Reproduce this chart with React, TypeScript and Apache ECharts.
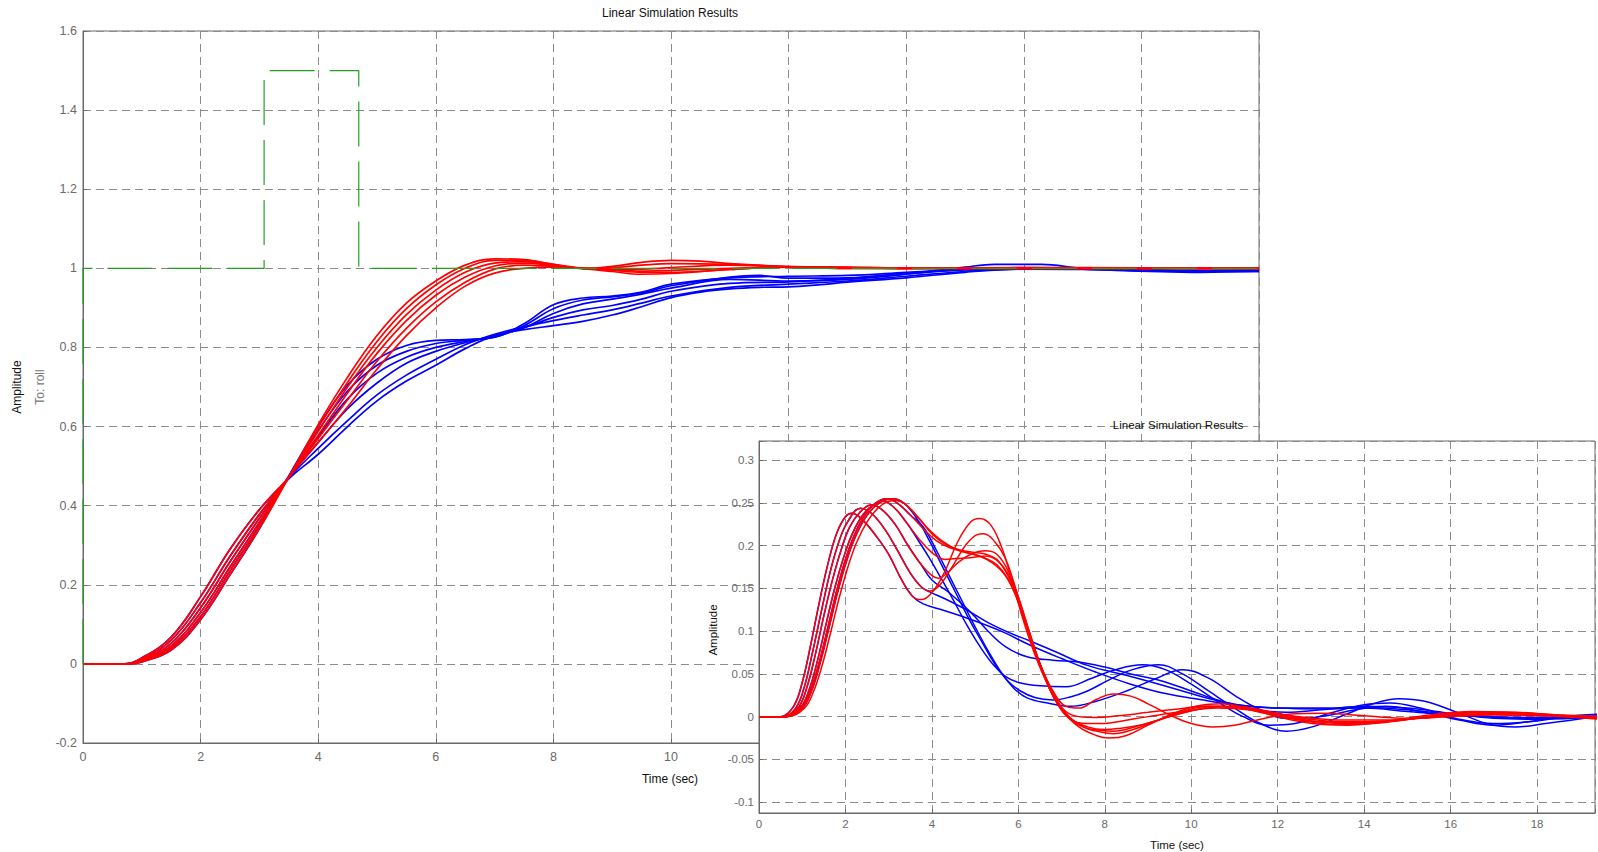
import React, { useEffect, useRef } from "react";
import * as echarts from "echarts";

const FONT = "'Liberation Sans', Arial, Helvetica, sans-serif";

// ---------- Main plot (roll step response) ----------
const MAIN_X_TICKS = [0, 20, 2]; // min, max, interval
const MAIN_Y_TICKS = [-0.2, 1.6, 0.2];

const INPUT_SIGNAL: number[][] = [[0, 0], [0, 1], [3.08, 1], [3.08, 1.5], [4.69, 1.5], [4.69, 1], [20, 1]];

const MAIN_RED_1 = [[0,0],[0.7,0],[1,0.015],[1.5,0.068],[2,0.17],[2.5,0.29],[3,0.39],[3.5,0.472],[4,0.56],[4.5,0.65],[5,0.745],[5.5,0.83],[6,0.9],[6.5,0.955],[7,0.988],[7.5,1.0],[8,1.003],[8.5,1.0],[9,0.995],[9.5,0.99],[10,0.99],[10.5,0.992],[11,0.997],[12,1.003],[13,1.003],[14,1.001],[16,1.0],[18,1.0],[20,1.0]];
const MAIN_RED_2 = [[0,0],[0.7,0],[1,0.012],[1.5,0.06],[2,0.155],[2.5,0.272],[3,0.378],[3.5,0.472],[4,0.57],[4.5,0.668],[5,0.765],[5.5,0.848],[6,0.915],[6.5,0.965],[7,0.998],[7.5,1.008],[8,1.005],[8.5,1.0],[9,0.996],[9.5,0.993],[10,0.995],[11,1.0],[12,1.004],[13,1.002],[14,1.0],[16,1.0],[18,1.0],[20,1.0]];
const MAIN_RED_3 = [[0,0],[0.7,0],[1,0.01],[1.5,0.052],[2,0.142],[2.5,0.258],[3,0.368],[3.5,0.472],[4,0.578],[4.5,0.685],[5,0.785],[5.5,0.868],[6,0.932],[6.5,0.978],[7,1.006],[7.5,1.013],[8,1.007],[8.5,1.0],[9,0.998],[9.5,0.998],[10,1.002],[11,1.008],[12,1.005],[13,1.001],[14,1.0],[16,1.0],[18,1.0],[20,1.0]];
const MAIN_RED_4 = [[0,0],[0.75,0],[1,0.008],[1.5,0.045],[2,0.13],[2.5,0.245],[3,0.358],[3.5,0.472],[4,0.588],[4.5,0.7],[5,0.8],[5.5,0.883],[6,0.945],[6.5,0.99],[7,1.013],[7.5,1.017],[8,1.008],[8.5,1.0],[9,1.002],[9.5,1.008],[10,1.012],[11,1.01],[12,1.004],[13,1.0],[14,1.0],[16,1.001],[18,1.0],[20,1.0]];
const MAIN_RED_5 = [[0,0],[0.8,0],[1,0.006],[1.5,0.04],[2,0.12],[2.5,0.235],[3,0.35],[3.5,0.472],[4,0.598],[4.5,0.712],[5,0.815],[5.5,0.898],[6,0.958],[6.5,1.0],[7,1.02],[7.5,1.02],[8,1.01],[8.5,1.0],[9,1.005],[9.5,1.015],[10,1.02],[10.5,1.018],[11,1.012],[12,1.004],[13,1.0],[14,1.0],[16,1.002],[18,1.001],[20,1.0]];
const MAIN_RED_6 = [[0,0],[0.8,0],[1,0.005],[1.5,0.035],[2,0.112],[2.5,0.225],[3,0.342],[3.5,0.472],[4,0.605],[4.5,0.725],[5,0.83],[5.5,0.912],[6,0.968],[6.5,1.008],[7,1.024],[7.5,1.022],[8,1.01],[8.5,1.0],[9,0.992],[9.5,0.985],[10,0.987],[11,0.997],[12,1.004],[13,1.002],[14,1.0],[16,1.0],[18,1.0],[20,1.0]];

// Blue traces leave the red ones at about t = 3.5 s
const MAIN_BLUE_TAIL_1 = [[3.5,0.468],[4,0.53],[4.5,0.6],[5,0.665],[5.5,0.715],[6,0.755],[6.5,0.797],[7,0.83],[7.5,0.845],[8,0.855],[8.5,0.866],[9,0.882],[9.5,0.903],[10,0.926],[10.5,0.94],[11,0.948],[11.5,0.952],[12,0.953],[12.5,0.958],[13,0.965],[14,0.976],[15,0.99],[16,0.998],[17,0.998],[18,0.994],[19,0.992],[20,0.993]];
const MAIN_BLUE_TAIL_2 = [[3.5,0.47],[4,0.545],[4.5,0.615],[5,0.68],[5.5,0.73],[6,0.77],[6.5,0.807],[7,0.833],[7.5,0.852],[8,0.868],[8.5,0.882],[9,0.895],[9.5,0.912],[10,0.93],[11,0.952],[12,0.96],[13,0.968],[14,0.98],[15,0.992],[16,0.998],[17,0.997],[18,0.993],[19,0.99],[20,0.992]];
const MAIN_BLUE_TAIL_3 = [[3.5,0.472],[4,0.56],[4.5,0.645],[5,0.71],[5.5,0.76],[6,0.79],[6.5,0.812],[7,0.83],[7.5,0.85],[8,0.876],[8.5,0.895],[9,0.906],[9.5,0.922],[10,0.942],[11,0.962],[12,0.966],[13,0.974],[14,0.986],[15,0.997],[16,1.002],[17,1.001],[18,0.997],[19,0.993],[20,0.993]];
const MAIN_BLUE_TAIL_4 = [[3.5,0.472],[4,0.575],[4.5,0.67],[5,0.735],[5.5,0.775],[6,0.8],[6.5,0.815],[7,0.828],[7.5,0.85],[8,0.886],[8.5,0.91],[9,0.922],[9.5,0.935],[10,0.95],[11,0.972],[12,0.968],[13,0.972],[14,0.985],[15,1.003],[15.5,1.01],[16.3,1.01],[17,1.0],[18,0.995],[19,0.993],[20,0.992]];
const MAIN_BLUE_TAIL_5 = [[3.5,0.474],[4,0.59],[4.5,0.69],[5,0.755],[5.5,0.79],[6,0.81],[6.5,0.818],[7,0.826],[7.5,0.855],[8,0.898],[8.5,0.92],[9,0.928],[9.5,0.938],[10,0.956],[11,0.978],[11.5,0.982],[12,0.975],[13,0.976],[14,0.988],[15,0.996],[16,1.0],[17,0.999],[18,0.996],[19,0.994],[20,0.995]];
const MAIN_BLUE_TAIL_6 = [[3.5,0.475],[4,0.6],[4.5,0.705],[5,0.77],[5.5,0.805],[6,0.818],[6.5,0.82],[7,0.826],[7.5,0.86],[8,0.908],[8.5,0.925],[9,0.93],[9.5,0.94],[10,0.96],[11,0.976],[12,0.98],[13,0.982],[14,0.99],[15,0.998],[16,1.001],[17,0.998],[18,0.996],[19,0.994],[20,0.994]];

// ---------- Inset plot ----------
const INSET_X_RANGE = [0, 19.34, 2];
const INSET_Y_RANGE = [-0.1128, 0.3226, 0.05];

const INSET_RED_1 = [[0,0],[0.5,0],[0.8,0.012],[1.0,0.04],[1.2,0.085],[1.4,0.135],[1.6,0.18],[1.8,0.215],[2.0,0.234],[2.15,0.238],[2.4,0.23],[2.7,0.212],[3.0,0.19],[3.3,0.16],[3.55,0.141],[3.75,0.137],[4.0,0.145],[4.3,0.17],[4.6,0.205],[4.9,0.228],[5.1,0.232],[5.35,0.225],[5.6,0.2],[5.85,0.16],[6.1,0.115],[6.4,0.07],[6.7,0.035],[7.0,0.008],[7.4,-0.012],[7.8,-0.022],[8.1,-0.025],[8.5,-0.022],[9.0,-0.01],[9.6,0.004],[10.2,0.013],[10.7,0.015],[11.3,0.01],[12,0.0],[12.8,-0.008],[13.6,-0.01],[14.5,-0.006],[15.5,0.002],[16.5,0.006],[17.5,0.004],[18.5,0.0],[19.5,-0.003]];
const INSET_RED_2 = [[0,0],[0.55,0],[0.85,0.01],[1.05,0.035],[1.25,0.078],[1.45,0.125],[1.65,0.17],[1.85,0.205],[2.05,0.228],[2.35,0.244],[2.6,0.238],[2.9,0.22],[3.2,0.195],[3.5,0.168],[3.75,0.152],[3.95,0.147],[4.2,0.155],[4.5,0.178],[4.8,0.202],[5.05,0.213],[5.2,0.214],[5.45,0.205],[5.7,0.185],[5.95,0.148],[6.2,0.105],[6.5,0.062],[6.8,0.028],[7.1,0.004],[7.5,-0.012],[7.9,-0.018],[8.2,-0.02],[8.6,-0.016],[9.2,-0.005],[9.8,0.006],[10.4,0.012],[11,0.011],[11.7,0.004],[12.5,-0.004],[13.3,-0.009],[14.2,-0.008],[15.2,-0.002],[16.2,0.004],[17.2,0.005],[18.2,0.002],[19.5,-0.002]];
const INSET_RED_3 = [[0,0],[0.55,0],[0.9,0.01],[1.1,0.033],[1.3,0.072],[1.5,0.118],[1.7,0.16],[1.9,0.195],[2.1,0.222],[2.35,0.24],[2.6,0.248],[2.85,0.242],[3.15,0.225],[3.45,0.2],[3.75,0.178],[4.0,0.165],[4.15,0.162],[4.35,0.168],[4.6,0.18],[4.9,0.19],[5.25,0.194],[5.5,0.19],[5.75,0.172],[6.0,0.14],[6.25,0.1],[6.55,0.055],[6.85,0.022],[7.15,0.0],[7.5,-0.012],[7.9,-0.016],[8.2,-0.017],[8.7,-0.012],[9.3,-0.003],[10,0.007],[10.7,0.012],[11.4,0.008],[12.2,0.0],[13,-0.006],[14,-0.007],[15,-0.003],[16,0.003],[17,0.005],[18,0.003],[19.5,-0.001]];
const INSET_RED_4 = [[0,0],[0.6,0],[0.95,0.01],[1.15,0.03],[1.35,0.065],[1.55,0.108],[1.75,0.15],[1.95,0.185],[2.15,0.213],[2.4,0.236],[2.65,0.248],[2.85,0.252],[3.1,0.246],[3.4,0.228],[3.7,0.208],[4.0,0.192],[4.3,0.184],[4.55,0.185],[4.9,0.186],[5.25,0.188],[5.5,0.183],[5.75,0.168],[6.0,0.138],[6.25,0.098],[6.55,0.055],[6.85,0.02],[7.2,-0.002],[7.6,-0.012],[8.0,-0.015],[8.3,-0.014],[8.8,-0.01],[9.5,0.0],[10.2,0.009],[11,0.012],[11.8,0.006],[12.6,-0.002],[13.5,-0.006],[14.5,-0.005],[15.5,-0.001],[16.5,0.003],[17.5,0.004],[18.5,0.002],[19.5,0.0]];
const INSET_RED_5 = [[0,0],[0.6,0],[1.0,0.01],[1.2,0.028],[1.4,0.06],[1.6,0.1],[1.8,0.142],[2.0,0.178],[2.2,0.207],[2.45,0.232],[2.7,0.247],[2.95,0.254],[3.1,0.255],[3.35,0.25],[3.65,0.235],[3.95,0.218],[4.25,0.205],[4.6,0.195],[4.95,0.19],[5.25,0.185],[5.5,0.178],[5.75,0.162],[6.0,0.135],[6.25,0.097],[6.55,0.054],[6.85,0.02],[7.2,-0.003],[7.6,-0.008],[8.0,-0.008],[8.4,-0.005],[9.0,0.0],[9.8,0.006],[10.6,0.01],[11.5,0.007],[12.5,0.0],[13.5,-0.004],[14.5,-0.004],[15.5,-0.001],[16.5,0.002],[17.5,0.003],[18.5,0.001],[19.5,-0.001]];
const INSET_RED_6 = [[0,0],[0.65,0],[1.05,0.01],[1.25,0.028],[1.45,0.058],[1.65,0.097],[1.85,0.138],[2.05,0.174],[2.25,0.203],[2.5,0.228],[2.75,0.244],[3.0,0.252],[3.15,0.253],[3.4,0.248],[3.7,0.232],[4.0,0.214],[4.3,0.202],[4.65,0.195],[5.0,0.192],[5.25,0.19],[5.5,0.184],[5.75,0.166],[6.0,0.138],[6.25,0.1],[6.5,0.062],[6.8,0.03],[7.1,0.012],[7.4,0.01],[7.8,0.02],[8.2,0.0265],[8.6,0.024],[9.0,0.015],[9.5,0.002],[10.0,-0.008],[10.5,-0.012],[11.0,-0.01],[11.6,-0.003],[12.3,0.003],[13.0,0.004],[14.0,0.001],[15,-0.002],[16,0.0],[17,0.002],[18,0.001],[19.5,0.0]];
const INSET_RED_7 = [[0,0],[0.6,0],[1.0,0.012],[1.2,0.032],[1.4,0.065],[1.6,0.106],[1.8,0.148],[2.0,0.184],[2.2,0.212],[2.45,0.236],[2.7,0.25],[2.95,0.255],[3.2,0.25],[3.5,0.236],[3.8,0.22],[4.1,0.206],[4.4,0.198],[4.8,0.192],[5.1,0.188],[5.4,0.18],[5.7,0.165],[5.95,0.14],[6.2,0.103],[6.5,0.06],[6.8,0.025],[7.1,0.006],[7.4,0.0],[7.8,-0.001],[8.3,0.001],[9.0,0.005],[9.7,0.009],[10.3,0.012],[11,0.011],[11.8,0.004],[12.6,-0.004],[13.5,-0.008],[14.5,-0.006],[15.5,0.0],[16.5,0.005],[17.5,0.005],[18.5,0.001],[19.5,-0.002]];

const INSET_BLUE_TAIL_1 = [[3.55,0.141],[3.8,0.132],[4.3,0.124],[5.0,0.112],[5.6,0.1],[6.3,0.083],[7.0,0.068],[7.8,0.052],[8.6,0.038],[9.4,0.027],[10.2,0.02],[11,0.014],[12,0.01],[13,0.009],[14,0.01],[15,0.006],[16,0.002],[17,-0.001],[18,-0.002],[19.5,-0.001]];
const INSET_BLUE_TAIL_2 = [[3.95,0.146],[4.3,0.138],[4.8,0.125],[5.3,0.11],[5.8,0.098],[6.3,0.088],[6.9,0.075],[7.6,0.06],[8.6,0.047],[9.6,0.033],[10.5,0.02],[11.2,0.013],[12,0.01],[13,0.01],[14,0.011],[15,0.008],[16,0.003],[17,0.0],[18,-0.001],[19.5,0.0]];
const INSET_BLUE_TAIL_3 = [[4.0,0.16],[4.4,0.145],[4.9,0.122],[5.3,0.1],[5.7,0.082],[6.2,0.07],[6.8,0.066],[7.4,0.064],[8.0,0.058],[8.6,0.05],[9.3,0.042],[10,0.03],[10.7,0.018],[11.5,0.008],[12.2,0.005],[13,0.008],[14,0.012],[15,0.01],[16,0.004],[17,-0.002],[18,-0.003],[19.5,0.0]];
const INSET_BLUE_TAIL_4 = [[3.7,0.205],[3.95,0.185],[4.2,0.163],[4.5,0.136],[4.8,0.108],[5.1,0.083],[5.4,0.062],[5.7,0.047],[6.0,0.04],[6.5,0.036],[7.1,0.035],[7.7,0.045],[8.25,0.055],[8.87,0.0606],[9.4,0.055],[10,0.038],[10.6,0.018],[11.2,0.0],[11.8,-0.01],[12.4,-0.008],[13.2,0.004],[14,0.014],[14.6,0.016],[15.3,0.01],[16.2,-0.003],[17,-0.008],[17.8,-0.006],[18.6,-0.001],[19.5,0.001]];
const INSET_BLUE_TAIL_5 = [[3.65,0.232],[3.95,0.205],[4.25,0.175],[4.55,0.145],[4.85,0.115],[5.15,0.088],[5.45,0.062],[5.75,0.042],[6.05,0.03],[6.4,0.022],[6.8,0.0195],[7.2,0.023],[7.6,0.03],[8.1,0.043],[8.64,0.055],[9.25,0.0606],[9.8,0.05],[10.4,0.03],[11,0.01],[11.6,-0.008],[12.2,-0.017],[12.8,-0.012],[13.6,0.003],[14.2,0.015],[14.8,0.021],[15.4,0.018],[16.2,0.004],[16.9,-0.009],[17.5,-0.012],[18.2,-0.008],[19.5,0.001]];
const INSET_BLUE_TAIL_6 = [[3.8,0.222],[4.1,0.195],[4.4,0.165],[4.7,0.135],[5.0,0.105],[5.3,0.077],[5.6,0.052],[5.9,0.033],[6.2,0.022],[6.7,0.0157],[7.2,0.012],[7.8,0.018],[8.5,0.03],[9.2,0.045],[9.8,0.055],[10.4,0.045],[11,0.025],[11.6,0.008],[12.2,-0.002],[13,0.0],[13.8,0.008],[14.5,0.012],[15.3,0.006],[16.2,-0.004],[17,-0.01],[17.8,-0.006],[18.6,0.0],[19.5,0.003]];

const TEXTS = {
  mainTitle: "Linear Simulation Results",
  insetTitle: "Linear Simulation Results",
  xName: "Time (sec)",
  yName: "Amplitude",
  yOutput: "To: roll",
};

// Blue trace = red trace up to the branch time, then its own tail
function branch(red: number[][], tail: number[][]) {
  const t0 = tail[0][0];
  return [...red.filter((p) => p[0] < t0 - 0.15), ...tail];
}

const RED = "#ff0000";
const BLUE = "#0000ff";
const GRID_LINE = { show: true, lineStyle: { color: "#8c8c8c", width: 1, type: [8, 5] } };
const AXIS_LINE = { show: true, onZero: false, lineStyle: { color: "#6a6a6a", width: 1 } };
const AXIS_TICK = { show: true, inside: true, length: 4, lineStyle: { color: "#6a6a6a" } };

function lineSeries(data: number[][], color: string, axis: number, z: number, width: number) {
  return {
    type: "line",
    data,
    xAxisIndex: axis,
    yAxisIndex: axis,
    showSymbol: false,
    symbol: "none",
    smooth: 0.4,
    z,
    lineStyle: { color, width },
    silent: true,
  };
}

export default function App() {
  const ref = useRef<HTMLDivElement>(null);
  useEffect(() => {
    const chart = echarts.init(ref.current!, null, { renderer: "svg" });
    const mainReds = [MAIN_RED_1, MAIN_RED_2, MAIN_RED_3, MAIN_RED_4, MAIN_RED_5, MAIN_RED_6];
    const mainBlueTails = [MAIN_BLUE_TAIL_1, MAIN_BLUE_TAIL_2, MAIN_BLUE_TAIL_3, MAIN_BLUE_TAIL_4, MAIN_BLUE_TAIL_5, MAIN_BLUE_TAIL_6];
    const mainBlues = mainBlueTails.map((t, i) => branch(mainReds[i], t));
    const insetReds = [INSET_RED_1, INSET_RED_2, INSET_RED_3, INSET_RED_4, INSET_RED_5, INSET_RED_6, INSET_RED_7];
    const insetBlues = [
      branch(INSET_RED_1, INSET_BLUE_TAIL_1),
      branch(INSET_RED_2, INSET_BLUE_TAIL_2),
      branch(INSET_RED_3, INSET_BLUE_TAIL_3),
      branch(INSET_RED_4, INSET_BLUE_TAIL_4),
      branch(INSET_RED_5, INSET_BLUE_TAIL_5),
      branch(INSET_RED_7, INSET_BLUE_TAIL_6),
    ];

    const labelStyle = (size: number) => ({ color: "#6a6a6a", fontFamily: FONT, fontSize: size });
    const isStep = (v: number, step: number) => Math.abs(v / step - Math.round(v / step)) < 1e-6;

    const option: any = {
      animation: false,
      backgroundColor: "#ffffff",
      grid: [
        { left: 83, top: 31, width: 1176, height: 712, show: true, borderColor: "#6a6a6a", borderWidth: 1, backgroundColor: "transparent", z: 0 },
        { left: 759, top: 441, width: 838, height: 372, show: true, borderColor: "#6a6a6a", borderWidth: 1, backgroundColor: "#ffffff", z: 10 },
      ],
      xAxis: [
        {
          gridIndex: 0, type: "value", min: MAIN_X_TICKS[0], max: MAIN_X_TICKS[1], interval: MAIN_X_TICKS[2], z: 0,
          axisLine: AXIS_LINE, axisTick: AXIS_TICK, splitLine: GRID_LINE,
          axisLabel: { ...labelStyle(12.5), margin: 7, formatter: (v: number) => String(v) },
        },
        {
          gridIndex: 1, type: "value", min: INSET_X_RANGE[0], max: INSET_X_RANGE[1], interval: INSET_X_RANGE[2], z: 11,
          axisLine: AXIS_LINE, axisTick: AXIS_TICK, splitLine: GRID_LINE,
          axisLabel: { ...labelStyle(11.5), margin: 5, formatter: (v: number) => (isStep(v, 2) ? String(Math.round(v)) : "") },
        },
      ],
      yAxis: [
        {
          gridIndex: 0, type: "value", min: MAIN_Y_TICKS[0], max: MAIN_Y_TICKS[1], interval: MAIN_Y_TICKS[2], z: 0,
          axisLine: AXIS_LINE, axisTick: AXIS_TICK, splitLine: GRID_LINE,
          axisLabel: { ...labelStyle(12.5), margin: 6, formatter: (v: number) => String(Math.round(v * 10) / 10) },
        },
        {
          gridIndex: 1, type: "value", min: INSET_Y_RANGE[0], max: INSET_Y_RANGE[1], splitNumber: 9, z: 11,
          axisLine: AXIS_LINE, axisTick: AXIS_TICK, splitLine: GRID_LINE,
          axisLabel: {
            ...labelStyle(11.5), margin: 5, showMinLabel: true, showMaxLabel: true,
            formatter: (v: number) => (isStep(v, INSET_Y_RANGE[2]) ? String(Math.round(v * 100) / 100) : ""),
          },
        },
      ],
      series: [
        ...mainBlues.map((d) => lineSeries(d, BLUE, 0, 2, 1.7)),
        ...mainReds.map((d) => lineSeries(d, RED, 0, 3, 1.7)),
        {
          type: "line", data: INPUT_SIGNAL, xAxisIndex: 0, yAxisIndex: 0, showSymbol: false, symbol: "none",
          z: 4, silent: true, lineStyle: { color: "#22a022", width: 1.2, type: [45, 15] },
        },
        ...insetBlues.map((d) => lineSeries(d, BLUE, 1, 12, 1.5)),
        ...insetReds.map((d) => lineSeries(d, RED, 1, 13, 1.5)),
      ],
      graphic: {
        elements: [
          { type: "text", x: 670, y: 13, z: 100, style: { text: TEXTS.mainTitle, fill: "#111", font: `12px ${FONT}`, align: "center", verticalAlign: "middle" } },
          { type: "text", x: 670, y: 779, z: 100, style: { text: TEXTS.xName, fill: "#111", font: `12px ${FONT}`, align: "center", verticalAlign: "middle" } },
          { type: "text", x: 17, y: 387, rotation: Math.PI / 2, z: 100, style: { text: TEXTS.yName, fill: "#111", font: `12px ${FONT}`, align: "center", verticalAlign: "middle" } },
          { type: "text", x: 40, y: 387, rotation: Math.PI / 2, z: 100, style: { text: TEXTS.yOutput, fill: "#777", font: `12px ${FONT}`, align: "center", verticalAlign: "middle" } },
          { type: "text", x: 1178, y: 425, z: 100, style: { text: TEXTS.insetTitle, fill: "#111", font: `11.5px ${FONT}`, align: "center", verticalAlign: "middle" } },
          { type: "text", x: 1177, y: 845, z: 100, style: { text: TEXTS.xName, fill: "#111", font: `11.5px ${FONT}`, align: "center", verticalAlign: "middle" } },
          { type: "text", x: 713, y: 630, rotation: Math.PI / 2, z: 100, style: { text: TEXTS.yName, fill: "#111", font: `11.5px ${FONT}`, align: "center", verticalAlign: "middle" } },
        ],
      },
    };
    chart.setOption(option);
    return () => chart.dispose();
  }, []);
  return (
    <div
      ref={ref}
      style={{ position: "absolute", left: 0, top: 0, width: 1598, height: 852, background: "#fff" }}
    />
  );
}
